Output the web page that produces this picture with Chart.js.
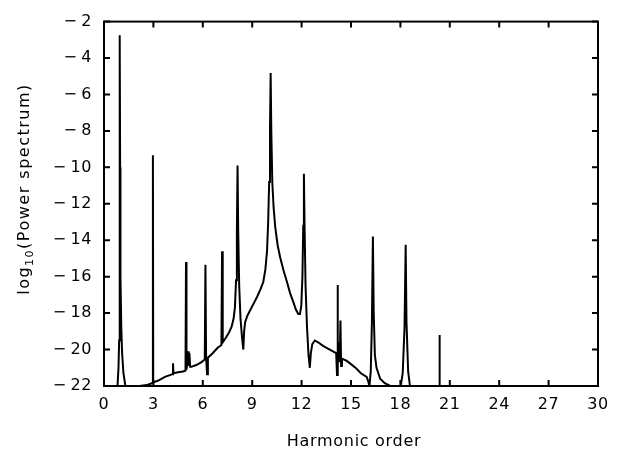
<!DOCTYPE html>
<html>
<head>
<meta charset="utf-8">
<script src="https://cdn.jsdelivr.net/npm/chart.js@4"></script>
<style>
  html, body { margin: 0; padding: 0; background: #fff; }
</style>
</head>
<body>
<canvas id="spectrum_chart" width="623" height="452"></canvas>
<script>

// values; -23 means "below the plotted range"
var harmonic_order = [
    0, 0.78, 0.82, 0.88, 0.92, 0.94, 0.955, 0.965, 0.98, 1.0, 1.05, 1.1, 1.18, 1.3, 1.36,
    2.1, 2.2, 2.6, 2.9, 2.95, 2.97, 2.99, 3.3, 3.7, 4.0, 4.16, 4.19, 4.22, 4.5, 4.8,
    4.95, 4.98, 5.01, 5.07, 5.11, 5.15, 5.19, 5.23, 5.3, 5.6, 5.9,
    6.12, 6.16, 6.2, 6.26, 6.31, 6.6, 6.9, 7.13, 7.17, 7.21, 7.4, 7.6, 7.75, 7.87, 7.95,
    8.02, 8.07, 8.11, 8.15, 8.21, 8.29, 8.38, 8.46, 8.51, 8.57, 8.7, 8.9, 9.1, 9.3, 9.5,
    9.67, 9.8, 9.9, 9.97, 10.03, 10.08, 10.12, 10.16, 10.22, 10.3, 10.4, 10.55, 10.7, 10.9,
    11.1, 11.3, 11.5, 11.65, 11.8, 11.9, 11.98, 12.05, 12.1, 12.14, 12.18, 12.24, 12.33,
    12.42, 12.5, 12.56, 12.65, 12.8, 13.0, 13.3, 13.6, 13.9,
    14.1, 14.15, 14.18, 14.21, 14.26, 14.31, 14.36, 14.4, 14.45, 14.7, 15.0, 15.34, 15.6,
    15.95, 16.05, 16.12, 16.2, 16.27, 16.33, 16.38, 16.45, 16.55, 16.77, 17.05, 17.38, 17.5,
    17.95, 18.02, 18.14, 18.25, 18.32, 18.37, 18.47, 18.58, 18.65,
    20.34, 20.36, 20.37, 20.38, 20.4, 30
];
var log_power = [
    -23, -23, -22, -21, -19.5, -17, -10, -2.75, -10, -16, -18.8, -20.2, -21.3, -22, -23,
    -23, -22, -21.95, -21.85, -21.82, -9.33, -21.8, -21.7, -21.5, -21.4, -21.35, -20.75, -21.3, -21.25, -21.2,
    -21.15, -15.2, -21.1, -20.7, -20.1, -20.9, -20.2, -20.95, -20.95, -20.85, -20.7,
    -20.55, -15.35, -20.4, -21.35, -20.45, -20.2, -19.9, -19.75, -14.6, -19.6, -19.35, -19.05, -18.75, -18.3, -17.7,
    -16.2, -13.5, -9.9, -13.5, -16.5, -18.3, -19.3, -20.0, -19.0, -18.5, -18.15, -17.8, -17.45, -17.1, -16.7,
    -16.3, -15.6, -14.6, -13.0, -10.8, -8.0, -4.82, -8.0, -10.8, -12.2, -13.3, -14.3, -14.95, -15.65,
    -16.25, -16.9, -17.4, -17.8, -18.05, -18.05, -17.6, -16.0, -13.2, -10.35, -13.2, -16.5, -18.8,
    -20.3, -21.0, -20.2, -19.7, -19.5, -19.6, -19.8, -19.95, -20.1,
    -20.2, -21.4, -16.45, -20.6, -19.6, -20.7, -18.4, -20.9, -20.5, -20.6, -20.8, -21.05, -21.3,
    -21.5, -21.75, -22, -21.2, -18.5, -13.8, -18.0, -20.3, -21.0, -21.6, -21.85, -22, -23,
    -23, -22, -21.3, -18.8, -14.25, -18.5, -21.2, -22, -23,
    -23, -22, -19.2, -22, -23, -23
];
var x_tick_values = [0, 3, 6, 9, 12, 15, 18, 21, 24, 27, 30];
var y_tick_values = [-22, -20, -18, -16, -14, -12, -10, -8, -6, -4, -2];

var label_font = {family: 'DejaVu Sans', size: 16};

var points = harmonic_order.map(function (h, i) {
    return {x: h, y: log_power[i]};
});

// frame, inward tick marks on all four sides, axis titles
var framePlugin = {
    id: 'frame',
    beforeDraw: function (chart) {
        chart.ctx.letterSpacing = '0.6px';
    },
    afterDatasetsDraw: function (chart) {
        var ctx = chart.ctx;
        var a = chart.chartArea;
        var xs = chart.scales.x, ys = chart.scales.y;
        var tl = 6;
        ctx.save();
        ctx.strokeStyle = '#000';
        ctx.lineWidth = 2;
        ctx.strokeRect(a.left, a.top, a.right - a.left, a.bottom - a.top);
        ctx.beginPath();
        xs.ticks.forEach(function (t) {
            var px = xs.getPixelForValue(t.value);
            ctx.moveTo(px, a.bottom); ctx.lineTo(px, a.bottom - tl);
            ctx.moveTo(px, a.top); ctx.lineTo(px, a.top + tl);
        });
        ys.ticks.forEach(function (t) {
            var py = ys.getPixelForValue(t.value);
            ctx.moveTo(a.left, py); ctx.lineTo(a.left + tl, py);
            ctx.moveTo(a.right, py); ctx.lineTo(a.right - tl, py);
        });
        ctx.stroke();
        ctx.restore();
    },
    afterDraw: function (chart) {
        var ctx = chart.ctx;
        var a = chart.chartArea;
        ctx.save();
        ctx.fillStyle = '#000';

        // x title
        ctx.letterSpacing = '0.7px';
        ctx.font = '16px "DejaVu Sans"';
        ctx.textAlign = 'center';
        ctx.textBaseline = 'middle';
        ctx.fillText('Harmonic order', (a.left + a.right) / 2 + 3, 442);

        // y title with subscript, rotated
        ctx.letterSpacing = '1.5px';
        ctx.textAlign = 'left';
        ctx.textBaseline = 'alphabetic';
        var big = '16px "DejaVu Sans"', small = '11px "DejaVu Sans"';
        ctx.font = big;
        var w1 = ctx.measureText('log').width;
        var w3 = ctx.measureText('(Power spectrum)').width;
        ctx.font = small;
        var w2 = ctx.measureText('10').width;
        var total = w1 + w2 + w3;
        ctx.translate(29, 189);
        ctx.rotate(-Math.PI / 2);
        var x0 = -total / 2;
        ctx.font = big;
        ctx.fillText('log', x0, 0);
        ctx.font = small;
        ctx.fillText('10', x0 + w1, 4);
        ctx.font = big;
        ctx.fillText('(Power spectrum)', x0 + w1 + w2, 0);
        ctx.restore();
    }
};

const config = {
    type: 'line',
    data: {
        datasets: [{
            data: points,
            borderColor: '#000',
            borderWidth: 2,
            pointRadius: 0,
            tension: 0,
            fill: false,
        }]
    },
    options: {
        responsive: false,
        animation: false,
        layout: {padding: {left: 0, right: 25, top: 12, bottom: 0}},
        scales: {
            x: {
                type: 'linear',
                min: 0,
                max: 30,
                afterBuildTicks: function (scale) {
                    scale.ticks = x_tick_values.map(function (v) { return {value: v}; });
                },
                afterFit: function (scale) { scale.height = 66; },
                grid: {display: false, drawTicks: false},
                border: {display: false},
                ticks: {color: '#000', font: label_font, padding: 9, maxRotation: 0},
            },
            y: {
                type: 'linear',
                min: -22,
                max: -2,
                afterBuildTicks: function (scale) {
                    scale.ticks = y_tick_values.map(function (v) { return {value: v}; });
                },
                afterFit: function (scale) { scale.width = 104; },
                grid: {display: false, drawTicks: false},
                border: {display: false},
                ticks: {
                    color: '#000',
                    font: label_font,
                    padding: 12,
                    callback: function (v) { return v < 0 ? '\u2212\u2009' + Math.abs(v) : '' + v; }
                },
            }
        },
        plugins: {
            legend: {display: false},
            tooltip: {enabled: false},
        }
    },
    plugins: [framePlugin]
};

const spectrumChart = new Chart(document.getElementById('spectrum_chart'), config);
</script>
</body>
</html>
